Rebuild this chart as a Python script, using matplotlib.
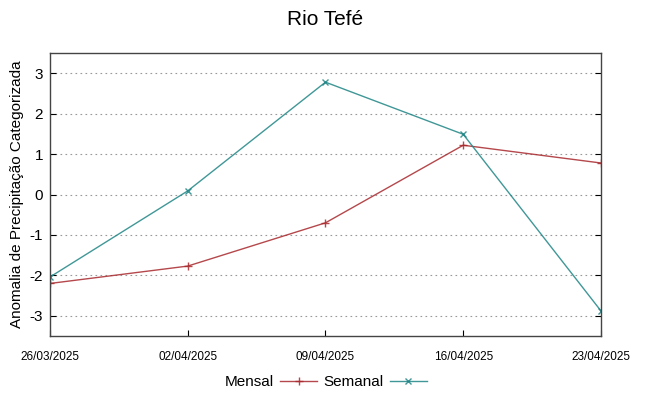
from datetime import datetime

import matplotlib
matplotlib.use("Agg")
import matplotlib.pyplot as plt

# data
date_labels = ["26/03/2025", "02/04/2025", "09/04/2025", "16/04/2025", "23/04/2025"]
mensal = [-2.20, -1.77, -0.70, 1.22, 0.78]
semanal = [-2.04, 0.09, 2.78, 1.49, -2.88]
y_ticks = [-3, -2, -1, 0, 1, 2, 3]

dates = [datetime.strptime(d, "%d/%m/%Y") for d in date_labels]

plt.rcParams["font.family"] = ["Liberation Sans", "DejaVu Sans"]
plt.rcParams["axes.unicode_minus"] = False

fig = plt.figure(figsize=(6.49, 3.96), dpi=100)
ax = fig.add_axes([0.077, 0.1515, 0.849, 0.7145])

ax.plot(dates, mensal, color="#a8282c", lw=1.0, alpha=0.85,
        marker="+", ms=6, mew=1.0, label="Mensal")
ax.plot(dates, semanal, color="#1f8585", lw=1.0, alpha=0.85,
        marker="x", ms=5, mew=1.0, label="Semanal")

ax.set_xlim(dates[0], dates[-1])
ax.set_ylim(-3.5, 3.5)
ax.set_xticks(dates)
ax.set_xticklabels(date_labels, fontsize=8.5,
                   family=["Liberation Sans Narrow", "Liberation Sans"])
ax.set_yticks(y_ticks)
ax.tick_params(axis="y", labelsize=11, direction="in", right=True, length=4, pad=5)
ax.tick_params(axis="x", direction="in", top=False, length=4, pad=11)

ax.grid(axis="y", linestyle=(0, (1.5, 3)), color="#999999", lw=0.8)
for s in ax.spines.values():
    s.set_color("#444444")
    s.set_linewidth(1.0)

ax.set_ylabel("Anomalia de Precipitação Categorizada", fontsize=11, labelpad=4)
ax.set_title("Rio Tefé", fontsize=15, pad=20)

ax.legend(loc="upper center", bbox_to_anchor=(0.5, -0.09), ncol=2,
          frameon=False, markerfirst=False, fontsize=11,
          handlelength=2.4, columnspacing=0.4, handletextpad=0.45)

fig.savefig("out.png", dpi=100)
